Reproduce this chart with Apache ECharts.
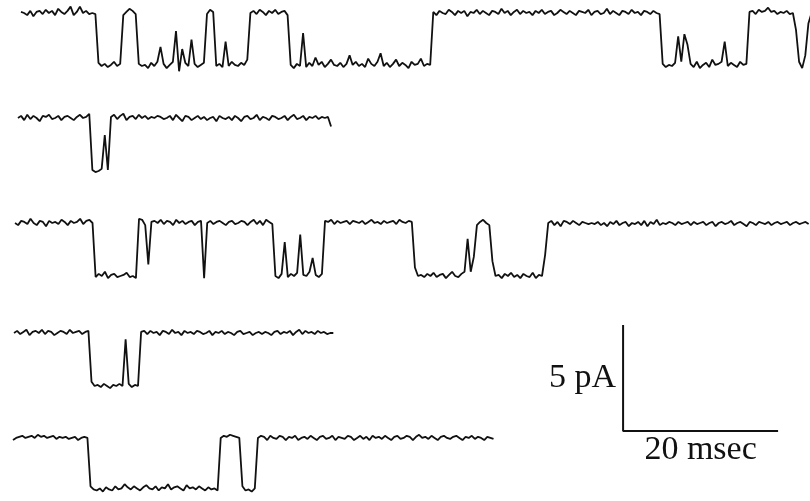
<!DOCTYPE html>
<html>
<head>
<meta charset="utf-8">
<script src="https://cdn.jsdelivr.net/npm/echarts@6/dist/echarts.min.js"></script>
<style>html,body{margin:0;padding:0;background:#fff}#c{width:810px;height:501px}</style>
</head>
<body>
<div id="c"></div>
<script>
// Single-channel current traces (pA), sampled every 0.4 ms. 0 = closed, about -2.4 = open.
const sampleMs = 0.4;
const traceStartMs = [1.16, 0.77, 0.39, 0.26, 0.13];

const trace1 = [
  0.05,0.0,-0.1,0.1,-0.15,0.05,0.1,-0.05,0.15,0.0,0.1,-0.1,0.2,0.05,-0.05,0.1,0.3,-0.1,0.05,0.3,0.0,0.1,-0.05,0.0,-0.05,
  -2.35,-2.5,-2.4,-2.55,-2.45,-2.3,-2.5,-2.4,
  -0.1,0.05,0.2,0.1,-0.05,
  -2.4,-2.5,-2.45,-2.6,-2.35,-2.5,-2.3,-1.6,-2.4,-2.6,-2.45,-2.3,-0.85,-2.75,-1.7,-2.35,-2.5,-1.25,-2.4,-2.55,-2.45,-2.35,
  -0.05,0.15,0.05,
  -2.5,-2.4,-2.55,-1.35,-2.5,-2.3,-2.45,-2.5,-2.35,-2.45,-2.2,
  0.0,0.1,-0.05,0.15,0.05,-0.1,0.1,0.0,0.15,-0.05,0.05,0.1,-0.1,
  -2.45,-2.6,-2.4,-2.5,-0.95,-2.55,-2.35,-2.5,-2.1,-2.45,-2.3,-2.55,-2.4,-2.2,-2.45,-2.5,-2.35,-2.55,-2.4,-2.0,
  -2.45,-2.3,-2.5,-2.4,-2.55,-2.15,-2.4,-2.5,-2.3,-1.9,-2.5,-2.35,-2.55,-2.4,-2.2,-2.5,-2.35,-2.45,-2.6,-2.3,
  -2.45,-2.4,-2.15,-2.5,-2.4,-2.45,
  0.05,-0.1,0.1,0.0,-0.05,0.15,0.05,-0.1,0.1,0.0,0.1,-0.15,0.05,0.0,0.15,-0.05,0.1,0.0,-0.1,0.1,
  0.05,-0.05,0.2,0.0,0.1,-0.1,0.05,0.15,-0.05,0.1,0.0,0.05,-0.1,0.1,0.0,0.15,-0.05,0.05,0.1,-0.1,
  0.0,0.15,0.05,-0.05,0.1,0.0,-0.1,0.1,0.05,0.0,0.15,-0.1,0.05,0.1,-0.05,0.0,0.2,-0.05,0.1,0.0,
  -0.1,0.1,0.05,-0.05,0.15,0.0,0.05,-0.1,0.1,0.05,-0.05,0.1,0.0,-0.05,
  -2.4,-2.55,-2.45,-2.5,-2.35,-1.1,-2.3,-1.0,-1.5,-2.4,-2.55,-2.3,-2.6,-2.45,-2.35,-2.55,-2.2,-2.45,-2.4,-2.3,
  -1.35,-2.5,-2.35,-2.45,-2.55,-2.3,-2.45,-2.4,
  0.05,0.1,-0.05,0.15,0.05,0.1,0.25,0.05,0.1,-0.05,0.05,0.0,0.1,-0.05,0.0,
  -0.8,-2.3,-2.6,-2.0,-0.5,0.0
];

const trace2 = [
  0.0,0.1,-0.1,0.15,-0.05,0.1,0.0,-0.15,0.1,0.05,0.15,-0.05,0.0,0.1,-0.1,0.05,0.1,0.0,-0.1,0.05,0.15,0.0,0.05,0.2,
  -2.45,-2.55,-2.5,-2.4,
  -0.8,
  -2.45,
  0.05,0.15,-0.05,0.1,0.2,-0.1,0.05,0.1,-0.05,0.15,0.0,0.1,-0.05,0.05,0.0,0.1,0.05,-0.05,0.0,0.1,
  -0.1,0.15,0.0,-0.15,0.1,0.05,-0.1,0.0,0.1,-0.05,0.05,-0.1,0.0,0.05,-0.15,0.1,0.0,-0.05,0.05,-0.1,
  0.1,0.0,-0.15,0.05,0.1,-0.05,0.0,0.15,-0.1,0.05,0.0,-0.1,0.1,0.05,-0.05,0.0,0.1,-0.1,0.05,0.15,
  -0.05,0.0,0.1,-0.1,0.05,0.0,0.1,-0.05,0.05,0.0,0.05,-0.4
];

const trace3 = [
  0.0,-0.1,0.1,0.05,-0.05,0.2,0.0,-0.1,0.1,0.05,-0.15,0.1,0.0,0.05,-0.05,0.15,0.05,-0.1,0.1,0.0,0.05,0.2,-0.05,0.1,0.15,0.0,
  -2.55,-2.4,-2.5,-2.3,-2.6,-2.45,-2.4,-2.55,-2.5,-2.45,-2.35,-2.55,-2.5,-2.6,
  0.2,0.15,-0.1,-1.95,0.05,0.1,0.0,0.15,-0.05,0.1,0.05,-0.1,0.15,0.0,0.1,-0.05,0.05,0.1,-0.1,0.05,0.1,
  -2.6,
  0.0,0.1,-0.05,0.05,0.1,0.0,-0.1,0.05,0.1,-0.05,0.0,0.1,0.05,-0.1,0.05,0.15,-0.05,0.1,-0.1,0.15,0.05,-0.05,
  -2.5,-2.6,-2.4,-0.9,-2.55,-2.4,-2.5,-2.35,-0.55,-2.45,-2.5,-2.3,-1.65,-2.45,-2.55,-2.4,
  0.1,0.05,0.15,-0.05,0.1,0.0,0.05,0.1,-0.05,0.1,0.05,0.0,0.1,-0.05,0.05,0.15,0.0,0.05,-0.05,0.1,
  0.0,0.05,0.1,-0.05,0.15,0.05,0.0,0.1,0.05,
  -2.1,-2.5,-2.45,-2.55,-2.4,-2.5,-2.35,-2.55,-2.45,-2.4,-2.6,-2.45,-2.3,-2.5,-2.55,-2.4,-2.3,
  -0.75,-2.3,-1.6,-0.1,0.05,0.15,0.0,-0.1,-1.8,
  -2.5,-2.45,-2.6,-2.4,-2.5,-2.35,-2.55,-2.45,-2.6,-2.4,-2.5,-2.55,-2.35,-2.6,-2.45,-2.5,
  -1.5,
  0.0,0.1,-0.1,0.05,-0.15,0.1,0.05,-0.05,0.1,0.0,-0.1,0.05,0.0,-0.05,0.0,-0.05,0.05,-0.1,0.0,-0.15,
  0.05,-0.05,0.1,-0.1,0.0,0.05,-0.15,0.0,-0.05,0.05,-0.1,0.1,-0.15,0.05,-0.05,0.15,-0.1,0.0,-0.05,0.05,
  0.0,-0.1,0.05,-0.05,0.0,0.05,-0.1,0.05,-0.05,0.0,0.05,-0.1,0.0,0.05,-0.15,0.0,0.05,-0.05,0.0,0.1,
  -0.1,0.0,0.05,-0.05,-0.15,0.05,0.0,-0.1,0.05,0.0,-0.05,0.05,-0.1,0.0,0.05,-0.05,0.0,0.05,-0.1,0.0,
  0.05,-0.05,0.0,0.05,-0.05
];

const trace4 = [
  0.0,0.1,-0.05,0.05,0.15,-0.1,0.05,0.1,0.0,0.15,-0.05,0.1,0.05,-0.1,0.0,0.1,0.05,-0.05,0.15,0.0,0.05,0.1,-0.05,0.05,0.1,
  -2.3,-2.5,-2.45,-2.55,-2.4,-2.5,-2.6,-2.45,-2.5,-2.4,-2.5,
  -0.3,
  -2.4,-2.55,-2.45,-2.5,
  0.05,0.1,-0.05,0.1,0.0,0.05,-0.1,0.1,0.05,-0.05,0.15,0.0,0.05,-0.1,0.1,0.0,0.05,-0.05,0.1,0.05,
  -0.05,0.0,0.1,-0.1,0.05,0.0,0.1,-0.05,0.05,0.0,-0.1,0.05,0.1,-0.05,0.0,0.05,-0.1,0.0,0.05,-0.05,
  0.05,0.0,-0.1,0.05,0.1,-0.05,0.05,0.0,0.1,-0.1,0.05,0.15,-0.05,0.1,0.0,0.05,-0.05,0.1,0.0,0.05,
  -0.05,0.0,0.0
];

const trace5 = [
  -0.1,0.0,0.05,0.1,0.0,0.05,0.1,0.0,0.15,0.05,0.1,0.0,0.05,0.1,-0.05,0.05,0.0,0.05,-0.05,0.0,0.05,-0.1,0.0,0.05,0.0,
  -2.3,-2.45,-2.5,-2.4,-2.55,-2.35,-2.45,-2.5,-2.3,-2.45,-2.4,-2.2,-2.35,-2.45,-2.3,-2.4,-2.5,-2.35,-2.25,-2.4,
  -2.45,-2.3,-2.5,-2.35,-2.4,-2.2,-2.45,-2.35,-2.3,-2.4,-2.5,-2.25,-2.4,-2.35,-2.45,-2.3,-2.4,-2.5,-2.35,-2.45,
  -2.4,-2.5,
  0.0,0.1,0.05,0.15,0.1,0.05,0.0,
  -2.3,-2.5,-2.45,-2.55,-2.4,
  0.0,0.1,0.05,-0.1,0.1,0.0,-0.05,0.1,0.05,-0.1,0.05,0.0,0.1,-0.1,0.0,0.05,-0.05,0.1,0.0,-0.1,
  0.05,0.1,-0.05,0.0,0.1,-0.1,0.05,0.0,-0.05,0.1,0.05,-0.1,0.0,0.1,-0.05,0.05,-0.1,0.1,0.0,0.05,
  -0.05,0.1,0.0,-0.1,0.05,0.1,-0.05,0.0,0.1,0.05,-0.1,0.05,0.15,0.0,0.05,-0.05,0.1,0.0,-0.1,0.05,
  0.1,0.0,-0.05,0.05,0.1,0.0,-0.1,0.05,0.0,0.1,-0.05,0.05,0.0,-0.1,0.05,0.0,-0.05
];

const traces = [trace1, trace2, trace3, trace4, trace5];

// Scale bar values
const scaleBarMs = 20;
const scaleBarPA = 5;
const scaleBarLabels = ['5 pA', '20 msec'];

// ---- layout (pixels) ----
const pxPerMs = 7.75, pxPerPA = 21.2;
const plotLeft = 12, plotWidth = 798;
const xMax = plotWidth / pxPerMs;
const baselinesPx = [13, 118, 223, 333, 438];
const yMin = -3, yMax = 0.5;
const scaleBarXms = 78.85, scaleBarTop = 325;

const grid = [], xAxis = [], yAxis = [], series = [];
traces.forEach((vals, i) => {
  grid.push({left: plotLeft, width: plotWidth, top: baselinesPx[i] - yMax * pxPerPA, height: (yMax - yMin) * pxPerPA});
  xAxis.push({type: 'value', gridIndex: i, min: 0, max: xMax, show: false});
  yAxis.push({type: 'value', gridIndex: i, min: yMin, max: yMax, show: false});
  series.push({
    type: 'line', xAxisIndex: i, yAxisIndex: i, showSymbol: false, clip: false, silent: true,
    lineStyle: {color: '#111', width: 1.8},
    data: vals.map((v, k) => [traceStartMs[i] + k * sampleMs, v])
  });
});
// scale bar grid
const g = traces.length;
grid.push({left: plotLeft, width: plotWidth, top: scaleBarTop, height: scaleBarPA * pxPerPA});
xAxis.push({type: 'value', gridIndex: g, min: 0, max: xMax, show: false});
yAxis.push({type: 'value', gridIndex: g, min: 0, max: scaleBarPA, show: false});
series.push({
  type: 'line', xAxisIndex: g, yAxisIndex: g, showSymbol: false, clip: false, silent: true,
  lineStyle: {color: '#111', width: 2},
  data: [[scaleBarXms, scaleBarPA], [scaleBarXms, 0], [scaleBarXms + scaleBarMs, 0]]
});
const textStyle = {fontFamily: 'Liberation Serif', fontSize: 34, color: '#111', opacity: 1};
series.push({
  type: 'scatter', xAxisIndex: g, yAxisIndex: g, symbolSize: 0, silent: true,
  itemStyle: {opacity: 1},
  data: [
    {value: [scaleBarXms, scaleBarPA / 2], label: Object.assign({show: true, position: 'left', distance: 7, formatter: scaleBarLabels[0]}, textStyle)},
    {value: [scaleBarXms + scaleBarMs / 2, 0], label: Object.assign({show: true, position: 'bottom', distance: 2, formatter: scaleBarLabels[1]}, textStyle)}
  ]
});

const chart = echarts.init(document.getElementById('c'), null, {renderer: 'canvas'});
chart.setOption({animation: false, backgroundColor: '#fff', grid, xAxis, yAxis, series});
</script>
</body>
</html>
